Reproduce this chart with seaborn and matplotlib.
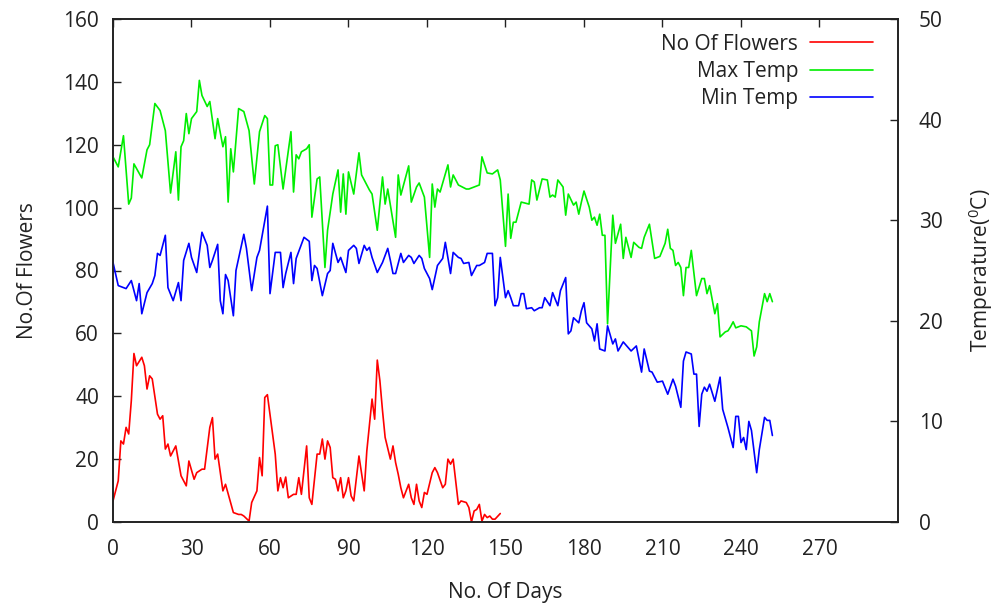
import matplotlib
matplotlib.use("Agg")
import matplotlib.pyplot as plt
import seaborn as sns
import pandas as pd

flower_days = [0, 2, 3, 4, 5, 6, 7, 8, 9, 11, 12, 13, 14, 15, 17, 18, 19, 20, 21, 22, 24, 26, 28, 29,
               31, 32, 34, 35, 37, 38, 39, 40, 42, 43, 46, 48, 49, 50, 52, 53, 55, 56, 57, 58, 59,
               62, 63, 64, 65, 66, 67, 69, 70, 71, 72, 74, 75, 76, 78, 79, 80, 81, 82, 83, 84, 85,
               86, 87, 88, 89, 90, 91, 92, 94, 96, 97, 99, 100, 101, 102, 103, 104, 106, 107, 108,
               109, 110, 111, 113, 114, 115, 116, 117, 118, 119, 120, 122, 123, 124, 126, 127, 128,
               129, 130, 132, 133, 135, 136, 137, 138, 139, 140, 141, 142, 143, 144, 145, 146, 148]
flowers = [6.7, 13.1, 25.8, 24.8, 30.1, 28.0, 38.6, 53.6, 49.7, 52.4, 49.7, 42.3, 46.5, 45.5, 34.3,
           32.7, 33.8, 23.2, 24.8, 21.0, 24.2, 14.7, 11.5, 19.4, 13.6, 15.7, 16.8, 16.8, 30.1, 33.2,
           20.0, 21.6, 9.9, 12.0, 3.0, 2.4, 2.4, 1.9, 0.3, 6.2, 9.9, 20.5, 14.7, 39.6, 40.5, 21.6,
           9.9, 14.1, 10.9, 14.3, 7.7, 8.8, 8.8, 14.1, 8.8, 24.2, 7.7, 5.6, 21.6, 21.6, 26.4, 20.0,
           25.8, 23.7, 14.1, 13.6, 9.9, 14.1, 7.7, 9.9, 14.1, 8.3, 6.7, 21.0, 9.9, 22.6, 39.1, 32.7,
           51.5, 44.9, 35.4, 26.9, 20.0, 24.2, 18.9, 15.2, 10.9, 7.7, 12.0, 7.7, 5.6, 12.0, 6.7, 4.6,
           9.4, 8.8, 15.7, 17.3, 15.7, 10.9, 12.0, 20.0, 18.4, 20.0, 5.6, 6.7, 6.2, 4.6, 0.0, 3.5,
           4.0, 5.6, 0.3, 2.4, 1.4, 1.9, 0.9, 0.9, 2.7]

max_days = [0, 2, 4, 6, 7, 8, 11, 13, 14, 16, 18, 20, 22, 24, 25, 26, 27, 28, 29, 30, 32, 33, 34,
            36, 37, 39, 40, 42, 43, 44, 45, 46, 48, 50, 52, 54, 56, 58, 59, 60, 61, 62, 63, 65, 68,
            69, 70, 71, 72, 74, 75, 76, 78, 79, 81, 82, 84, 86, 87, 88, 89, 90, 92, 94, 95, 98, 99,
            101, 103, 104, 105, 108, 109, 110, 113, 114, 116, 117, 118, 119, 121, 122, 123, 124, 125,
            128, 129, 130, 132, 135, 136, 138, 140, 141, 143, 145, 147, 148, 150, 151, 152, 153, 154,
            156, 159, 160, 161, 162, 164, 166, 167, 168, 169, 170, 172, 173, 174, 176, 177, 178, 179,
            180, 182, 183, 184, 185, 186, 187, 188, 189, 191, 192, 194, 195, 196, 198, 199, 201, 202,
            203, 205, 207, 209, 211, 212, 213, 214, 215, 216, 217, 218, 219, 220, 221, 223, 225, 226,
            227, 228, 230, 231, 232, 234, 235, 236, 237, 238, 240, 242, 244, 245, 246, 247, 249, 250,
            251, 252]
max_temp = [36.3, 35.3, 38.4, 31.6, 32.2, 35.6, 34.2, 37.0, 37.5, 41.6, 40.9, 38.9, 32.7, 36.8, 32.0,
            37.3, 37.9, 40.6, 38.6, 40.1, 40.8, 43.9, 42.4, 41.3, 41.8, 38.1, 40.1, 37.3, 38.3, 31.8,
            37.1, 34.8, 41.1, 40.8, 38.9, 33.6, 38.8, 40.4, 40.1, 33.5, 33.5, 37.4, 37.5, 33.1, 38.8,
            32.8, 36.5, 36.1, 36.8, 37.1, 37.5, 30.3, 34.1, 34.3, 25.3, 29.0, 32.6, 35.0, 30.8, 34.6,
            30.6, 34.8, 32.6, 36.7, 34.5, 33.0, 32.6, 29.0, 34.3, 31.6, 33.1, 28.3, 34.5, 32.5, 35.4,
            31.8, 33.3, 33.7, 33.0, 32.3, 26.3, 33.6, 31.3, 33.1, 32.8, 35.5, 33.3, 34.5, 33.5, 33.1,
            33.1, 33.3, 33.5, 36.3, 34.7, 34.6, 35.0, 34.0, 27.4, 32.6, 28.2, 29.8, 29.8, 31.8, 31.6,
            34.0, 33.8, 32.0, 34.1, 34.0, 32.3, 32.5, 32.3, 34.0, 33.3, 30.5, 32.6, 31.5, 31.8, 30.6,
            31.8, 32.9, 31.3, 30.0, 30.3, 29.5, 30.6, 28.5, 28.5, 19.7, 30.5, 27.7, 29.6, 26.2, 28.3,
            26.3, 27.8, 27.3, 27.2, 28.3, 29.6, 26.2, 26.4, 27.7, 29.1, 27.2, 27.0, 25.5, 25.8, 25.3,
            22.5, 25.3, 25.3, 27.0, 22.5, 24.2, 24.2, 22.7, 23.5, 20.7, 21.7, 18.4, 18.9, 19.0, 19.4,
            19.9, 19.3, 19.5, 19.4, 19.0, 16.5, 17.4, 19.9, 22.7, 21.9, 22.7, 21.9]

min_days = [0, 2, 4, 5, 7, 9, 10, 11, 13, 15, 16, 17, 18, 20, 21, 23, 25, 26, 27, 29, 30, 32, 34,
            36, 37, 38, 40, 41, 42, 43, 44, 46, 47, 50, 51, 53, 55, 56, 59, 60, 62, 64, 65, 66, 68,
            69, 70, 73, 75, 76, 77, 78, 80, 82, 83, 84, 86, 87, 89, 90, 92, 93, 94, 96, 97, 98, 99,
            101, 103, 105, 106, 107, 108, 110, 111, 113, 114, 115, 117, 118, 119, 121, 122, 123, 124,
            126, 127, 129, 130, 132, 133, 134, 136, 137, 138, 139, 140, 142, 143, 145, 146, 147, 148,
            150, 151, 152, 153, 155, 156, 157, 158, 160, 161, 163, 164, 165, 167, 168, 170, 171, 173,
            174, 175, 176, 178, 179, 180, 181, 183, 184, 185, 186, 188, 189, 191, 192, 193, 195, 198,
            200, 202, 203, 205, 206, 208, 210, 212, 214, 215, 217, 218, 219, 221, 222, 223, 224, 225,
            226, 227, 228, 230, 232, 233, 235, 237, 238, 239, 240, 241, 242, 243, 244, 246, 247, 249,
            250, 251, 252]
min_temp = [25.8, 23.5, 23.3, 23.2, 24.0, 22.0, 23.7, 20.7, 22.8, 23.7, 24.5, 26.7, 26.5, 28.5, 23.3,
            22.0, 23.8, 22.0, 26.0, 27.7, 26.3, 24.8, 28.8, 27.5, 25.3, 26.0, 27.6, 22.0, 20.7, 24.6,
            24.0, 20.5, 25.0, 28.6, 27.2, 23.0, 26.3, 27.0, 31.4, 22.7, 26.8, 26.8, 23.3, 24.7, 26.8,
            23.7, 26.2, 28.3, 27.9, 24.0, 25.5, 25.2, 22.5, 24.7, 25.0, 27.7, 25.8, 26.3, 24.8, 27.0,
            27.5, 27.2, 25.7, 27.5, 27.0, 27.3, 26.3, 24.8, 25.8, 27.2, 26.0, 24.7, 24.7, 26.7, 25.8,
            26.5, 26.3, 25.7, 26.5, 26.2, 25.2, 24.2, 23.1, 24.3, 25.5, 26.2, 27.8, 24.7, 26.8, 26.3,
            26.2, 25.7, 25.8, 24.5, 25.0, 25.5, 25.5, 25.8, 26.7, 26.7, 21.5, 22.3, 26.3, 22.3, 23.0,
            22.3, 21.5, 21.5, 22.7, 22.7, 21.2, 21.3, 21.0, 21.3, 21.3, 22.3, 21.5, 22.8, 21.5, 23.0,
            24.3, 18.7, 19.0, 20.3, 19.8, 21.0, 21.8, 19.8, 19.2, 18.0, 19.7, 17.2, 17.0, 19.5, 17.7,
            18.2, 17.0, 17.9, 17.0, 17.5, 14.9, 17.2, 15.0, 14.9, 13.9, 14.0, 12.7, 14.2, 13.5, 11.4,
            16.0, 16.9, 16.7, 14.7, 14.7, 9.5, 12.7, 13.4, 13.0, 13.7, 12.0, 14.4, 11.2, 9.4, 7.4,
            10.5, 10.5, 7.9, 8.4, 7.2, 10.0, 9.1, 4.9, 7.2, 10.4, 10.1, 10.1, 8.6]

x_ticks = [0, 30, 60, 90, 120, 150, 180, 210, 240, 270]
y_ticks = [0, 20, 40, 60, 80, 100, 120, 140, 160]
y2_ticks = [0, 10, 20, 30, 40, 50]

sns.set_theme(style="white")
plt.rcParams['font.family'] = ['Open Sans', 'DejaVu Sans']
plt.rcParams['mathtext.fontset'] = 'custom'
plt.rcParams['mathtext.rm'] = 'Open Sans'
plt.rcParams['mathtext.it'] = 'Open Sans'
FS = 15
TXT = "#222222"

df_f = pd.DataFrame({"day": flower_days, "val": flowers})
df_max = pd.DataFrame({"day": max_days, "val": max_temp})
df_min = pd.DataFrame({"day": min_days, "val": min_temp})

fig = plt.figure(figsize=(9.95, 6.06), dpi=100)
ax = fig.add_axes([113/995, 1 - 522/606, (898 - 113)/995, (522 - 19)/606])
ax2 = ax.twinx()

sns.lineplot(data=df_f, x="day", y="val", ax=ax, color="#ff0000", lw=1.2, label="No Of Flowers", legend=False)
sns.lineplot(data=df_max, x="day", y="val", ax=ax2, color="#00ee00", lw=1.2, label="Max Temp", legend=False)
sns.lineplot(data=df_min, x="day", y="val", ax=ax2, color="#0000ff", lw=1.2, label="Min Temp", legend=False)

ax.set_xlim(0, 300)
ax.set_ylim(0, 160)
ax2.set_ylim(0, 50)
ax.set_xticks(x_ticks)
ax.set_yticks(y_ticks)
ax2.set_yticks(y2_ticks)

for a in (ax, ax2):
    for s in a.spines.values():
        s.set_color(TXT)
        s.set_linewidth(1.2)
ax.tick_params(axis="both", direction="in", length=6, width=1, color=TXT,
               labelsize=FS, labelcolor=TXT)
ax.tick_params(axis="y", pad=10)
ax.tick_params(axis="x", top=True, pad=12)
ax2.tick_params(axis="y", direction="in", length=6, width=1, color=TXT,
                labelsize=FS, labelcolor=TXT, pad=15, right=True)

ax.set_xlabel("No. Of Days", fontsize=FS, color=TXT, labelpad=16)
ax.set_ylabel("No.Of Flowers", fontsize=FS, color=TXT, labelpad=18)
ax2.set_ylabel("Temperature($^0$C)", fontsize=FS, color=TXT, labelpad=17)

h1, l1 = ax.get_legend_handles_labels()
h2, l2 = ax2.get_legend_handles_labels()
leg = ax2.legend(h1 + h2, l1 + l2, loc="upper right", frameon=False, markerfirst=False,
                 fontsize=FS, handlelength=3.0, handletextpad=0.58, labelspacing=0.3,
                 borderaxespad=0.3, bbox_to_anchor=(0.9866, 1.0))
for t in leg.get_texts():
    t.set_color(TXT)

fig.savefig("out.png", dpi=100)
